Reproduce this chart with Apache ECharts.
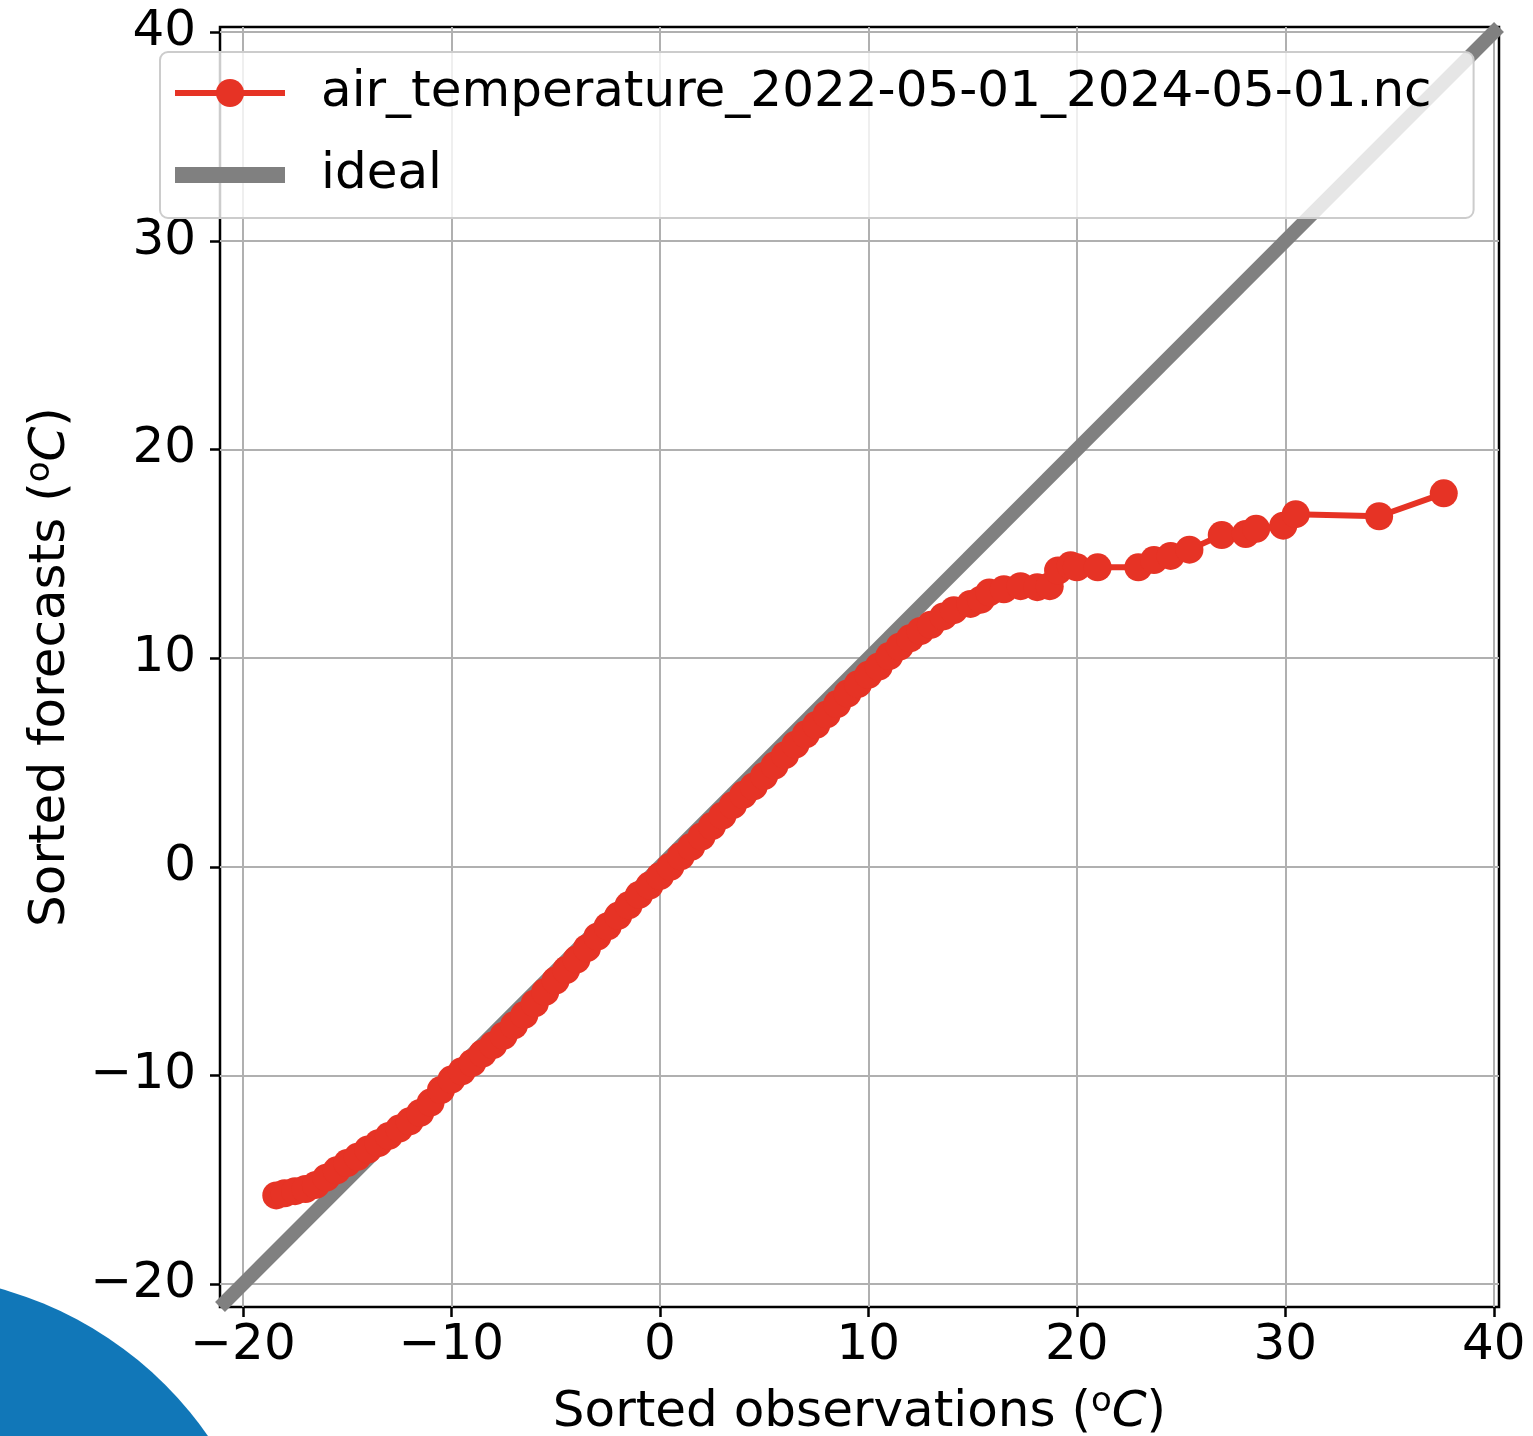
<!DOCTYPE html>
<html>
<head>
<meta charset="utf-8">
<title>QQ plot</title>
<script src="https://cdn.jsdelivr.net/npm/echarts@6/dist/echarts.min.js"></script>
<style>
  html, body { margin: 0; padding: 0; background: #fff; }
  #chart { width: 1533px; height: 1436px; }
</style>
</head>
<body>
<div id="chart"></div>
<script>
// sorted observations / sorted forecasts (degC)
var obsSorted = [
  -18.4, -18.0, -17.5, -17.0, -16.5, -16.0, -15.5, -15.0, -14.5, -14.0,
  -13.5, -13.0, -12.5, -12.0, -11.5, -11.0, -10.5, -10.0, -9.5, -9.0,
  -8.5, -8.0, -7.5, -7.0, -6.5, -6.0, -5.5, -5.0, -4.5, -4.0,
  -3.5, -3.0, -2.5, -2.0, -1.5, -1.0, -0.5, 0.0, 0.5, 1.0,
  1.5, 2.0, 2.5, 3.0, 3.5, 4.0, 4.5, 5.0, 5.5, 6.0,
  6.5, 7.0, 7.5, 8.0, 8.5, 9.0, 9.5, 10.0, 10.5, 11.0,
  11.5, 12.0, 12.5, 13.0, 13.6, 14.1, 14.9, 15.4, 15.8, 16.5,
  17.3, 18.1, 18.7, 19.1, 19.7, 20.0, 21.0, 22.95, 23.7, 24.5,
  25.4, 26.95, 28.1, 28.6, 29.9, 30.5, 34.5, 37.6
];
var fcstSorted = [
  -15.75, -15.65, -15.55, -15.45, -15.25, -14.9, -14.55, -14.2, -13.9, -13.55,
  -13.25, -12.9, -12.55, -12.2, -11.8, -11.3, -10.7, -10.2, -9.8, -9.4,
  -8.95, -8.55, -8.1, -7.6, -7.1, -6.55, -6.0, -5.45, -4.95, -4.45,
  -3.9, -3.35, -2.85, -2.35, -1.85, -1.35, -0.9, -0.45, 0.0, 0.5,
  0.95, 1.45, 1.95, 2.45, 2.95, 3.45, 3.85, 4.35, 4.85, 5.35,
  5.85, 6.35, 6.8, 7.3, 7.8, 8.3, 8.75, 9.2, 9.6, 10.1,
  10.55, 10.95, 11.3, 11.6, 12.0, 12.3, 12.6, 12.8, 13.15, 13.3,
  13.45, 13.4, 13.45, 14.2, 14.45, 14.35, 14.35, 14.35, 14.7, 14.9,
  15.2, 15.9, 15.95, 16.2, 16.35, 16.9, 16.8, 17.9
];
var idealEnds = [-21.1, 40.25];
var axisTicks = [-20, -10, 0, 10, 20, 30, 40];
var seriesName = 'air_temperature_2022-05-01_2024-05-01.nc';

var FONT = 'DejaVu Sans';
var RED = '#e63325';
var GREY = '#808080';

function fmtTick(v) {
  return v < 0 ? '\u2212' + Math.abs(v) : String(v);
}

var qqData = obsSorted.map(function (x, i) { return [x, fcstSorted[i]]; });
var idealData = idealEnds.map(function (v) { return [v, v]; });

var nameRich = {
  sup: { fontFamily: FONT, fontSize: 34, verticalAlign: 'top', lineHeight: 56, color: '#000' },
  it: { fontFamily: FONT, fontSize: 50, fontStyle: 'italic', lineHeight: 56, color: '#000' }
};

function makeAxis(name, gap, margin) {
  return {
    type: 'value',
    min: idealEnds[0],
    max: idealEnds[1],
    name: name,
    nameLocation: 'middle',
    nameGap: gap,
    nameTextStyle: { fontFamily: FONT, fontSize: 50, color: '#000', lineHeight: 56, rich: nameRich },
    axisLine: { show: false, onZero: false },
    axisTick: {
      show: true, inside: false, length: 10, customValues: axisTicks,
      lineStyle: { color: '#000', width: 2.5 }
    },
    axisLabel: {
      customValues: axisTicks, margin: margin,
      fontFamily: FONT, fontSize: 50, color: '#000',
      formatter: fmtTick
    },
    splitLine: { show: true, lineStyle: { color: '#b0b0b0', width: 2 } }
  };
}

var chart = echarts.init(document.getElementById('chart'), null, { renderer: 'canvas' });
chart.setOption({
  animation: false,
  backgroundColor: '#fff',
  grid: {
    left: 220, right: 34, top: 27, bottom: 129,
    outerBoundsMode: 'none',
    containLabel: false,
    show: true, borderColor: '#000', borderWidth: 2.5, backgroundColor: 'transparent'
  },
  xAxis: makeAxis('Sorted observations ({sup|o}{it|C})', 78, 14),
  yAxis: makeAxis('Sorted forecasts ({sup|o}{it|C})', 141, 24),
  legend: {
    orient: 'vertical',
    left: 160, top: 52,
    padding: [13, 42, 15, 12],
    itemGap: 26,
    itemWidth: 110,
    itemHeight: 35,
    backgroundColor: 'rgba(255,255,255,0.8)',
    borderColor: '#cccccc',
    borderWidth: 2,
    borderRadius: 8,
    textStyle: { fontFamily: FONT, fontSize: 50, color: '#000', lineHeight: 56, padding: [0, 0, 0, 31] },
    data: [
      { name: seriesName, lineStyle: { color: RED, width: 6 }, itemStyle: { color: RED } },
      { name: 'ideal', icon: 'path://M0,0L110,0L110,16L0,16Z', itemStyle: { color: GREY } }
    ]
  },
  graphic: [{
    type: 'circle',
    shape: { cx: -100, cy: 1650, r: 375 },
    style: { fill: '#1177b8' },
    z: 100
  }],
  series: [
    {
      name: seriesName,
      type: 'line',
      data: qqData,
      symbol: 'circle',
      symbolSize: 28,
      showAllSymbol: true,
      lineStyle: { color: RED, width: 6 },
      itemStyle: { color: RED },
      z: 4
    },
    {
      name: 'ideal',
      type: 'line',
      data: idealData,
      symbol: 'none',
      lineStyle: { color: GREY, width: 14 },
      itemStyle: { color: GREY },
      z: 3
    }
  ]
});
</script>
</body>
</html>
